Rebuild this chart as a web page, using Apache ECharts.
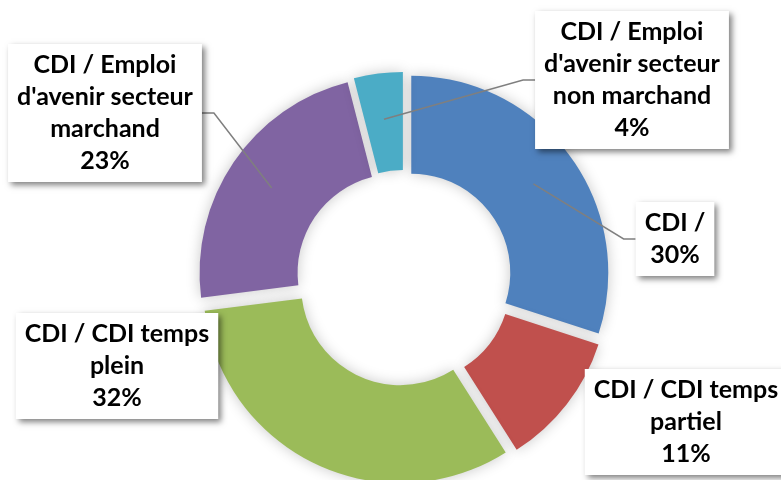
<!DOCTYPE html>
<html>
<head>
<meta charset="utf-8">
<script src="https://cdn.jsdelivr.net/npm/echarts@6/dist/echarts.min.js"></script>
<style>
html,body{margin:0;padding:0;background:#fff;}
#chart{width:781px;height:480px;}
</style>
</head>
<body>
<div id="chart"></div>
<script>
// ---- data ----
const categories = [
  'CDI /',
  'CDI / CDI temps\npartiel',
  'CDI / CDI temps\nplein',
  "CDI / Emploi\nd'avenir secteur\nmarchand",
  "CDI / Emploi\nd'avenir secteur\nnon marchand"
];
const shares = [30, 11, 32, 23, 4];
const colors = ['#4F81BD', '#C0504D', '#9BBB59', '#8064A2', '#4BACC6'];

// ---- label layout (box centres, leader side) ----
const labelCenters = [[675, 239], [686, 422], [117, 366], [105, 113], [632, 80]];
const leaderSide = ['left', null, null, 'right', 'left'];

const center = [404, 278];

const chart = echarts.init(document.getElementById('chart'), null, {renderer: 'canvas'});

const ringData = categories.map((c, i) => ({
  name: c, value: shares[i], selected: true,
  itemStyle: {color: colors[i]}
}));
const labelData = categories.map((c, i) => ({
  name: c, value: shares[i],
  labelLine: {show: leaderSide[i] !== null}
}));

chart.setOption({
  animation: false,
  backgroundColor: '#fff',
  series: [
    {
      type: 'pie',
      center: center,
      radius: [99, 197],
      startAngle: 90,
      clockwise: true,
      selectedMode: 'multiple',
      selectedOffset: 9,
      silent: true,
      label: {show: false},
      labelLine: {show: false},
      itemStyle: {shadowBlur: 14, shadowColor: 'rgba(0,0,0,0.22)'},
      emphasis: {disabled: true},
      data: ringData
    },
    {
      type: 'pie',
      center: center,
      radius: 160,
      startAngle: 90,
      clockwise: true,
      silent: true,
      avoidLabelOverlap: false,
      z: 5,
      itemStyle: {color: 'rgba(0,0,0,0)'},
      emphasis: {disabled: true},
      label: {
        show: true,
        position: 'outside',
        formatter: p => p.name + '\n' + p.value + '%',
        color: '#000',
        fontFamily: 'Lato',
        fontWeight: 'bold',
        fontSize: 25,
        lineHeight: 32,
        align: 'center',
        backgroundColor: '#fff',
        padding: [5, 9],
        shadowColor: 'rgba(0,0,0,0.5)',
        shadowBlur: 6,
        shadowOffsetX: 3,
        shadowOffsetY: 3
      },
      labelLine: {
        show: true,
        length: 20,
        length2: 12,
        lineStyle: {color: '#7F7F7F', width: 1.5}
      },
      labelLayout: function (params) {
        const i = params.dataIndex;
        const x = labelCenters[i][0], y = labelCenters[i][1];
        const w = params.labelRect.width;
        const out = {x: x, y: y, align: 'center', verticalAlign: 'middle'};
        if (leaderSide[i] && params.labelLinePoints) {
          const p0 = params.labelLinePoints[0];
          const ex = leaderSide[i] === 'left' ? x - w / 2 : x + w / 2;
          const bx = leaderSide[i] === 'left' ? ex - 12 : ex + 12;
          out.labelLinePoints = [[p0[0], p0[1]], [bx, y], [ex, y]];
        }
        return out;
      },
      data: labelData
    }
  ]
});
</script>
</body>
</html>
